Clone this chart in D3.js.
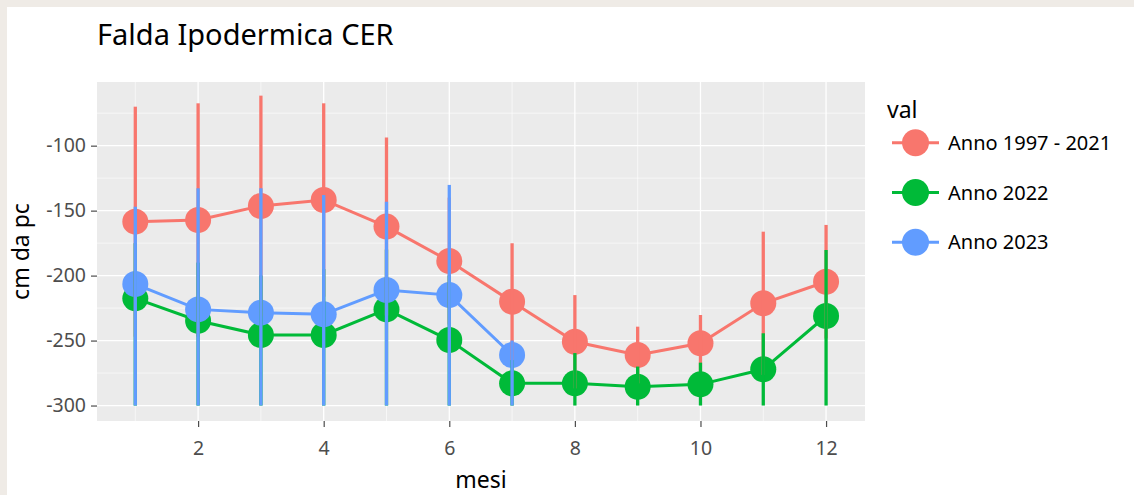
<!DOCTYPE html>
<html>
<head>
<meta charset="utf-8">
<script src="https://cdn.jsdelivr.net/npm/d3@7"></script>
<style>
  html, body { margin: 0; padding: 0; background: #efebe6; }
  svg { display: block; }
  text { font-family: "Noto Sans", "Open Sans", sans-serif; }
</style>
</head>
<body>
<svg id="chart" width="1134" height="495"></svg>
<script>
// ---- data ----
const months = [1, 2, 3, 4, 5, 6, 7, 8, 9, 10, 11, 12];
const seriesNames = ["Anno 1997 - 2021", "Anno 2022", "Anno 2023"];
const seriesColors = ["#F8766D", "#00BA38", "#619CFF"];

const meanHist = [-158.5, -157.2, -146.4, -141.8, -162.3, -188.8, -220.1, -250.9, -261.1, -252.1, -221.3, -204.7];
const hiHist   = [-70, -67.4, -61.5, -67.4, -93.8, -140, -175.1, -215, -239.3, -230.3, -166.2, -161];
const loHist   = [-247, -247, -231.3, -216.2, -230.8, -237.6, -265.1, -286.8, -282.9, -273.9, -276.4, -248.4];

const mean2022 = [-217.5, -234.7, -245.7, -245.7, -226, -249.6, -282.9, -282.9, -285.5, -283.7, -272.1, -231.1];
const hi2022   = [-175, -190, -200, -195, -180, -200, -265, -259.6, -270, -267, -244.4, -180.3];
const lo2022   = [-300, -300, -300, -300, -300, -300, -300, -300, -300, -300, -300, -300];

const months2023 = [1, 2, 3, 4, 5, 6, 7];
const mean2023 = [-206.5, -226, -228.5, -229.8, -211.1, -215, -261.1];
const hi2023   = [-147, -132.8, -132.8, -138, -143.1, -130.2, -250];
const lo2023   = [-300, -300, -300, -300, -300, -300, -300];

const xTicks = [2, 4, 6, 8, 10, 12];
const xMinor = [1, 3, 5, 7, 9, 11];
const yTicks = [-100, -150, -200, -250, -300];
const yMinor = [-75, -125, -175, -225, -275];

const titleText = "Falda Ipodermica CER";
const xTitle = "mesi";
const yTitle = "cm da pc";
const legendTitle = "val";

// ---- build series ----
function build(ms, mean, lo, hi) {
  return ms.map((m, i) => ({ m: m, v: mean[i], lo: lo[i], hi: hi[i] }));
}
const series = [
  build(months, meanHist, loHist, hiHist),
  build(months, mean2022, lo2022, hi2022),
  build(months2023, mean2023, lo2023, hi2023)
];

// ---- layout ----
const svg = d3.select("#chart");
const P = { left: 97, right: 865, top: 82, bottom: 421 };

svg.append("rect").attr("x", 7).attr("y", 7).attr("width", 1127).attr("height", 488).attr("fill", "#ffffff");

const x = d3.scaleLinear().domain([0.39, 12.62]).range([P.left, P.right]);
const y = d3.scaleLinear().domain([-311.9, -51]).range([P.bottom, P.top]);

// panel
svg.append("rect").attr("x", P.left).attr("y", P.top)
  .attr("width", P.right - P.left).attr("height", P.bottom - P.top).attr("fill", "#EBEBEB");

const grid = svg.append("g");
grid.selectAll(".xmin").data(xMinor).join("line")
  .attr("x1", d => x(d)).attr("x2", d => x(d)).attr("y1", P.top).attr("y2", P.bottom)
  .attr("stroke", "#fff").attr("stroke-width", 0.6);
grid.selectAll(".ymin").data(yMinor).join("line")
  .attr("y1", d => y(d)).attr("y2", d => y(d)).attr("x1", P.left).attr("x2", P.right)
  .attr("stroke", "#fff").attr("stroke-width", 0.6);
grid.selectAll(".xmaj").data(xTicks).join("line")
  .attr("x1", d => x(d)).attr("x2", d => x(d)).attr("y1", P.top).attr("y2", P.bottom)
  .attr("stroke", "#fff").attr("stroke-width", 1.3);
grid.selectAll(".ymaj").data(yTicks).join("line")
  .attr("y1", d => y(d)).attr("y2", d => y(d)).attr("x1", P.left).attr("x2", P.right)
  .attr("stroke", "#fff").attr("stroke-width", 1.3);

// axes
const xAxis = svg.append("g").attr("transform", `translate(0,${P.bottom})`)
  .call(d3.axisBottom(x).tickValues(xTicks).tickSize(6).tickPadding(14).tickFormat(d3.format("d")));
const yAxis = svg.append("g").attr("transform", `translate(${P.left},0)`)
  .call(d3.axisLeft(y).tickValues(yTicks).tickSize(6).tickPadding(5).tickFormat(d => String(d).replace("\u2212", "-")));
[xAxis, yAxis].forEach(a => {
  a.select(".domain").remove();
  a.selectAll(".tick line").attr("stroke", "#4d4d4d").attr("stroke-width", 1.2);
  a.selectAll(".tick text").attr("fill", "#4d4d4d").style("font-size", "19.5px")
    .style("font-family", '"Noto Sans", sans-serif');
});

// lines
const lineGen = d3.line().x(d => x(d.m)).y(d => y(d.v));
series.forEach((s, i) => {
  svg.append("path").datum(s).attr("d", lineGen).attr("fill", "none")
    .attr("stroke", seriesColors[i]).attr("stroke-width", 3);
});
// points
series.forEach((s, i) => {
  svg.append("g").selectAll("circle").data(s).join("circle")
    .attr("cx", d => x(d.m)).attr("cy", d => y(d.v)).attr("r", 13)
    .attr("fill", seriesColors[i]);
});
// error bars
series.forEach((s, i) => {
  svg.append("g").selectAll("line").data(s).join("line")
    .attr("x1", d => x(d.m)).attr("x2", d => x(d.m))
    .attr("y1", d => y(d.lo)).attr("y2", d => y(d.hi))
    .attr("stroke", seriesColors[i]).attr("stroke-width", 3.3);
});

// titles
svg.append("text").attr("x", 97).attr("y", 45).text(titleText)
  .style("font-size", "29px").attr("fill", "#000");
svg.append("text").attr("x", (P.left + P.right) / 2).attr("y", 488).attr("text-anchor", "middle")
  .text(xTitle).style("font-size", "23px").attr("fill", "#000");
svg.append("text").attr("transform", `translate(29,${(P.top + P.bottom) / 2}) rotate(-90)`)
  .attr("text-anchor", "middle").text(yTitle).style("font-size", "23px").attr("fill", "#000");

// legend
const lg = svg.append("g");
lg.append("text").attr("x", 887).attr("y", 118).text(legendTitle).style("font-size", "23px").attr("fill", "#000");
const ly = d3.scalePoint().domain(seriesNames).range([142.7, 242.3]);
seriesNames.forEach((n, i) => {
  const cy = ly(n);
  lg.append("line").attr("x1", 892).attr("x2", 939).attr("y1", cy).attr("y2", cy)
    .attr("stroke", seriesColors[i]).attr("stroke-width", 3);
  lg.append("circle").attr("cx", 915.5).attr("cy", cy).attr("r", 13.5).attr("fill", seriesColors[i]);
  lg.append("text").attr("x", 948).attr("y", cy).attr("dy", "0.35em").text(n)
    .style("font-size", "20px").attr("fill", "#000");
});
</script>
</body>
</html>
